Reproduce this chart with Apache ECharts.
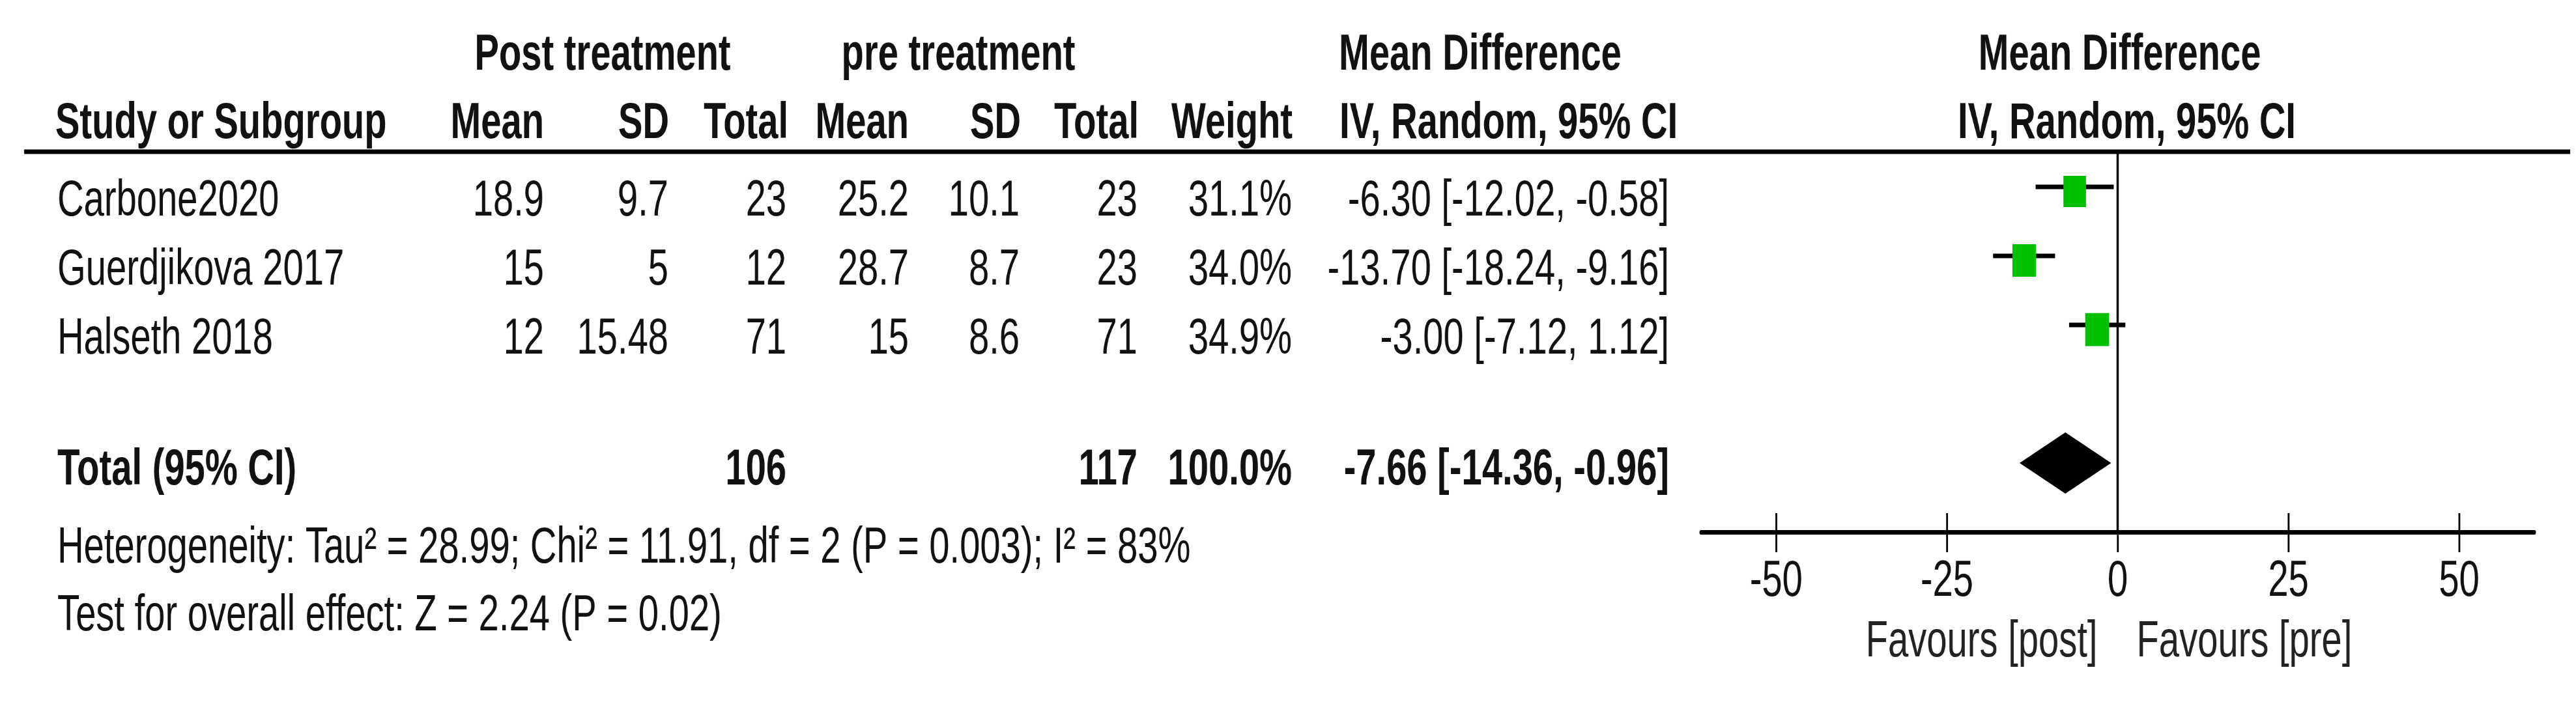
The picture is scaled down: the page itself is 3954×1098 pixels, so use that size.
<!DOCTYPE html>
<html><head><meta charset="utf-8">
<script src="https://cdn.jsdelivr.net/npm/echarts@6/dist/echarts.min.js"></script>
<style>
html,body{margin:0;padding:0;background:#fff;overflow:hidden;width:3954px;height:1098px}
#chart{width:5492px;height:1098px;transform:scaleX(0.72);transform-origin:0 0}
</style></head><body><div id="chart"></div>
<script>
// ---- data ----
const studies = ['Carbone2020', 'Guerdjikova 2017', 'Halseth 2018'];
const postMean = [18.9, 15, 12];
const postSD = [9.7, 5, 15.48];
const postN = [23, 12, 71];
const preMean = [25.2, 28.7, 15];
const preSD = [10.1, 8.7, 8.6];
const preN = [23, 23, 71];
const weights = [31.1, 34.0, 34.9];
const md = [-6.30, -13.70, -3.00];
const ciLow = [-12.02, -18.24, -7.12];
const ciHigh = [-0.58, -9.16, 1.12];
const totalPostN = 106;
const totalPreN = 117;
const totalWeight = 100.0;
const totalMD = -7.66;
const totalLow = -14.36;
const totalHigh = -0.96;
const heterogeneityText = 'Heterogeneity: Tau\u00B2 = 28.99; Chi\u00B2 = 11.91, df = 2 (P = 0.003); I\u00B2 = 83%';
const overallText = 'Test for overall effect: Z = 2.24 (P = 0.02)';
const xTicks = [-50, -25, 0, 25, 50];
const groupHeaders = ['Post treatment', 'pre treatment', 'Mean Difference'];
const colHeaders = ['Mean', 'SD', 'Total', 'Mean', 'SD', 'Total', 'Weight'];
const ciHeader = 'IV, Random, 95% CI';
const favours = ['Favours [post]', 'Favours [pre]'];

// ---- layout ----
const S = 0.72;          // horizontal compression of the reference
const X = v => v / S;    // reference x -> chart x
const FS = 78;
const FONT = '"Liberation Sans", Arial, sans-serif';
const TXT = '#111';
const totalRow = studies.length + 1;

const chart = echarts.init(document.getElementById('chart'), null, {renderer: 'canvas'});

chart.setOption({
  backgroundColor: '#fff',
  animation: false,
  grid: {left: X(2611), width: X(3890) - X(2611), top: 233, height: 584, containLabel: false, outerBoundsMode: 'none'},
  xAxis: [{
    type: 'value', min: -61, max: 61, position: 'bottom',
    axisLine: {show: true, onZero: false, lineStyle: {color: '#000', width: 7}},
    axisTick: {show: true, inside: false, length: 31, customValues: xTicks, lineStyle: {color: '#000', width: 4}},
    axisLabel: {show: true, customValues: xTicks, margin: 37, fontSize: FS, lineHeight: FS, fontFamily: FONT, color: TXT},
    splitLine: {show: false}
  }, {
    type: 'value', min: -61, max: 61, position: 'bottom', offset: 0,
    axisLine: {show: false, onZero: false},
    axisTick: {show: true, inside: true, length: 29, customValues: xTicks, lineStyle: {color: '#000', width: 4}},
    axisLabel: {show: false},
    splitLine: {show: false}
  }],
  yAxis: {type: 'value', min: -0.51, max: 5, inverse: true, show: false},
  series: [{
    type: 'custom',
    name: 'ci',
    encode: {x: [0, 1], y: 2},
    data: studies.map((s, i) => [ciLow[i], ciHigh[i], i]),
    renderItem: function (params, api) {
      const p1 = api.coord([api.value(0), api.value(2)]);
      const p2 = api.coord([api.value(1), api.value(2)]);
      return {type: 'line', shape: {x1: p1[0], y1: p1[1], x2: p2[0], y2: p2[1]},
        style: {stroke: '#000', lineWidth: 7}};
    },
    z: 2
  }, {
    type: 'scatter',
    name: 'md',
    data: studies.map((s, i) => [md[i], i, weights[i]]),
    symbol: 'rect',
    symbolSize: d => 8.6 * Math.sqrt(d[2]),
    symbolOffset: [0, 7],
    itemStyle: {color: '#00C000', opacity: 1},
    z: 3,
    markLine: {
      silent: true, symbol: ['none', 'none'], label: {show: false},
      lineStyle: {color: '#000', width: 5, type: 'solid'},
      data: [{xAxis: 0}]
    }
  }, {
    type: 'custom',
    name: 'total',
    encode: {x: [0, 1, 2], y: 3},
    data: [[totalLow, totalMD, totalHigh, totalRow]],
    renderItem: function (params, api) {
      const r = api.value(3);
      const a = api.coord([api.value(0), r]);
      const b = api.coord([api.value(1), r]);
      const c = api.coord([api.value(2), r]);
      const h = 47;
      return {type: 'polygon', shape: {points: [[a[0], a[1]], [b[0], b[1] - h], [c[0], c[1]], [b[0], b[1] + h]]},
        style: {fill: '#000'}};
    },
    z: 3
  }]
});

// ---- table text ----
const g = [];
function txt(text, xRef, y, align, bold, color) {
  g.push({type: 'text', x: X(xRef), y: y, silent: true,
    style: {text: text, fontSize: FS, fontFamily: FONT, fontWeight: bold ? 'bold' : 'normal',
      fill: color || TXT, align: align, verticalAlign: 'middle'}});
}
const rowY = i => chart.convertToPixel({yAxisIndex: 0}, i);
const zeroRef = chart.convertToPixel({xAxisIndex: 0}, 0) * S;

// header line
g.push({type: 'line', silent: true, shape: {x1: X(37), y1: 233, x2: X(3945), y2: 233}, style: {stroke: '#000', lineWidth: 7}});

// group headers
txt(groupHeaders[0], 925, 85, 'center', true);
txt(groupHeaders[1], 1471, 85, 'center', true);
txt(groupHeaders[2], 2055, 85, 'left', true);
txt(groupHeaders[2], zeroRef + 3, 85, 'center', true);
// column headers
const headRight = [835, 1027, 1210, 1395, 1567, 1748, 1984];
txt('Study or Subgroup', 85, 190, 'left', true);
colHeaders.forEach((h, k) => txt(h, headRight[k], 190, 'right', true));
txt(ciHeader, 2056, 190, 'left', true);
txt(ciHeader, zeroRef + 14, 190, 'center', true);

// study rows
const colRight = [835, 1026, 1207, 1395, 1565, 1746, 1983, 2562];
studies.forEach((s, i) => {
  const y = rowY(i) + 22;
  txt(s, 88, y, 'left', false);
  const vals = [String(postMean[i]), String(postSD[i]), String(postN[i]),
    String(preMean[i]), String(preSD[i]), String(preN[i]),
    weights[i].toFixed(1) + '%',
    md[i].toFixed(2) + ' [' + ciLow[i].toFixed(2) + ', ' + ciHigh[i].toFixed(2) + ']'];
  vals.forEach((v, k) => txt(v, colRight[k], y, 'right', false));
});

// total row
const ty = rowY(totalRow) + 11;
txt('Total (95% CI)', 88, ty, 'left', true);
txt(String(totalPostN), colRight[2], ty, 'right', true);
txt(String(totalPreN), colRight[5], ty, 'right', true);
txt(totalWeight.toFixed(1) + '%', colRight[6], ty, 'right', true);
txt(totalMD.toFixed(2) + ' [' + totalLow.toFixed(2) + ', ' + totalHigh.toFixed(2) + ']', colRight[7], ty, 'right', true);

// footnotes
txt(heterogeneityText, 88, 842, 'left', false);
txt(overallText, 88, 946, 'left', false);

// favours
txt(favours[0], zeroRef - 31, 986, 'right', false, '#222');
txt(favours[1], zeroRef + 29, 986, 'left', false, '#222');

chart.setOption({graphic: g});
</script></body></html>
